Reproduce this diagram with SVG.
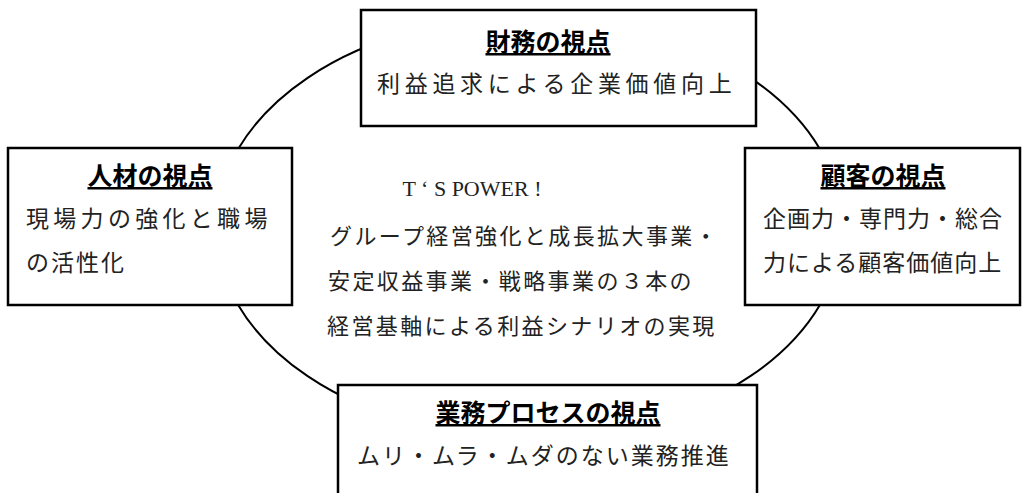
<svg xmlns="http://www.w3.org/2000/svg" width="1028" height="493" viewBox="0 0 1028 493">
<style>
.box{fill:#fff;stroke:#000;stroke-width:2.5}
.t{font-family:"Noto Sans CJK JP","Noto Sans CJK SC",sans-serif;font-size:25px;font-weight:bold;text-decoration:underline;fill:#000}
.b{font-family:"Noto Sans CJK JP","Noto Sans CJK SC",sans-serif;font-size:23px;fill:#222;letter-spacing:2px}
.c{font-family:"Noto Sans CJK JP","Noto Sans CJK SC",sans-serif;font-size:22px;fill:#222;letter-spacing:2.4px}
.e{font-family:"Liberation Serif",serif;font-size:22px;fill:#222}
</style>
<g id="connectors">
<ellipse cx="529" cy="227" rx="313" ry="211" fill="none" stroke="#000" stroke-width="2"/>
</g>
<g id="center">
<text class="e" x="472" y="196" text-anchor="middle">T ‘ S POWER !</text>
<text class="c" x="330" y="244">グループ経営強化と成長拡大事業・</text>
<text class="c" x="328" y="289">安定収益事業・戦略事業の３本の</text>
<text class="c" x="327" y="334">経営基軸による利益シナリオの実現</text>
</g>
<g id="finance">
<rect class="box" x="361" y="10" width="395" height="116"/>
<text class="t" x="548" y="51" text-anchor="middle">財務の視点</text>
<text class="b" x="377" y="92" style="letter-spacing:4.7px">利益追求による企業価値向上</text>
</g>
<g id="people">
<rect class="box" x="8" y="148" width="284" height="157"/>
<text class="t" x="150" y="185" text-anchor="middle">人材の視点</text>
<text class="b" x="26" y="227" style="letter-spacing:4.3px">現場力の強化と職場</text>
<text class="b" x="26" y="271">の活性化</text>
</g>
<g id="customer">
<rect class="box" x="745" y="148" width="275" height="157"/>
<text class="t" x="883" y="185" text-anchor="middle">顧客の視点</text>
<text class="b" x="763" y="227" style="letter-spacing:1px">企画力・専門力・総合</text>
<text class="b" x="763" y="271" style="letter-spacing:1px">力による顧客価値向上</text>
</g>
<g id="process">
<rect class="box" x="338" y="385" width="419" height="120"/>
<text class="t" x="548" y="422" text-anchor="middle">業務プロセスの視点</text>
<text class="b" x="357" y="464">ムリ・ムラ・ムダのない業務推進</text>
</g>
</svg>
